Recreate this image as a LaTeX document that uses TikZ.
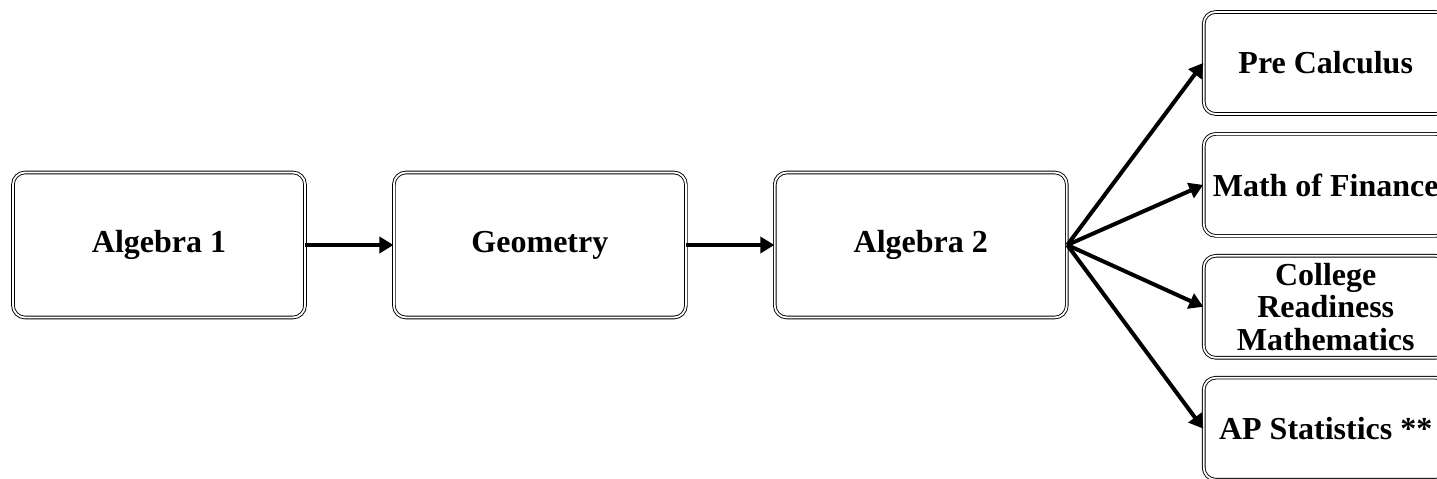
\documentclass[tikz,border=0pt]{standalone}
\usepackage{fontspec}
\setmainfont{Liberation Serif}
\usepackage{tikz}
\usetikzlibrary{arrows.meta,positioning}

\begin{document}
\begin{tikzpicture}[x=1pt, y=1pt,
    course/.style={rectangle, draw, double, line width=0.9pt, double distance=1.8pt, rounded corners=12pt, fill=white, align=center, minimum width=292pt, minimum height=145pt, inner sep=2pt, font=\fontsize{32}{32.5}\selectfont\bfseries},
    option/.style={course, minimum width=244pt, minimum height=102pt},
    arrow/.style={-{Triangle[length=14pt,width=16pt]}, line width=4pt}]

    \useasboundingbox (0,0) rectangle (1437,479);
    \clip (0,0) rectangle (1437,479);

    \node[course] (alg1) at (159,234) {Algebra 1};
    \node[course, right=88pt of alg1] (geo) {Geometry};
    \node[course, right=88pt of geo] (alg2) {Algebra 2};
    \node[option, anchor=west] (precalc) at ([xshift=136pt, yshift=182pt]alg2.east) {Pre Calculus};
    \node[option, below=19pt of precalc] (finance) {Math of Finance};
    \node[option, below=19pt of finance] (college) {College\\Readiness\\Mathematics};
    \node[option, below=19pt of college] (apstat) {AP Statistics **};

    \draw[arrow] (alg1) -- (geo);
    \draw[arrow] (geo) -- (alg2);
    \draw[arrow] (alg2.east) -- (precalc.west);
    \draw[arrow] (alg2.east) -- (finance.west);
    \draw[arrow] (alg2.east) -- (college.west);
    \draw[arrow] (alg2.east) -- (apstat.west);
\end{tikzpicture}
\end{document}
